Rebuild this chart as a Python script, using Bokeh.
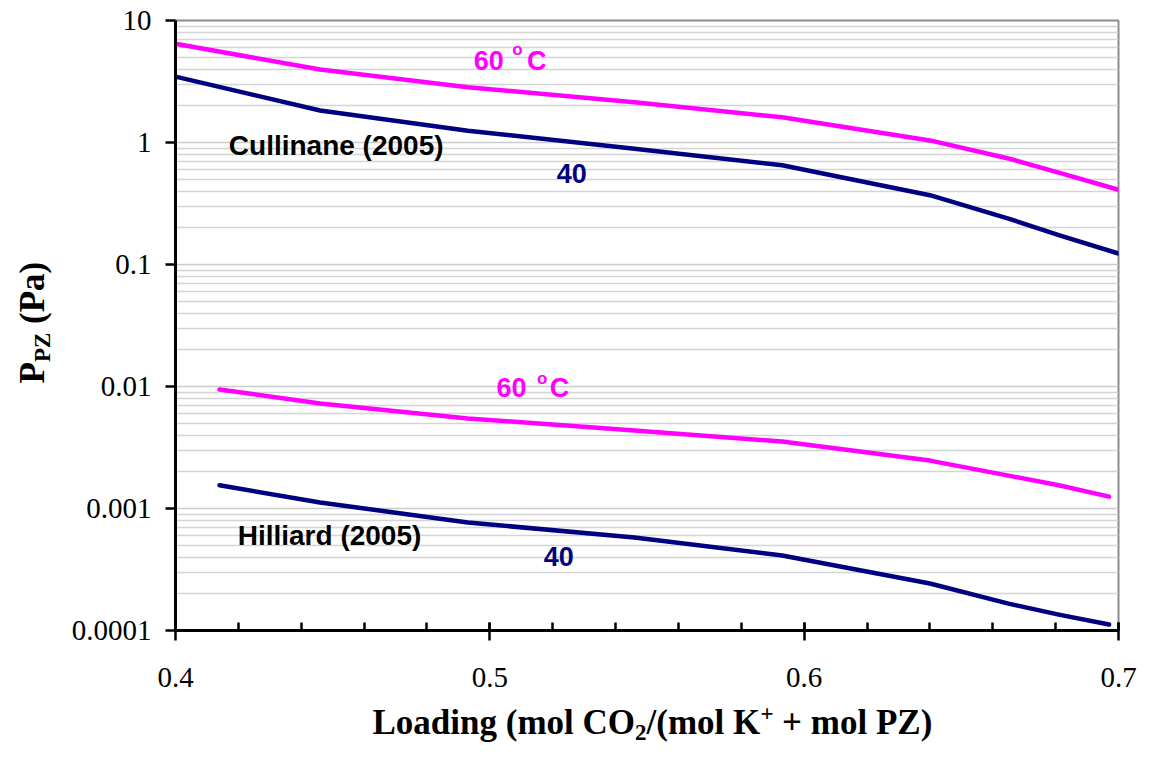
import math
from bokeh.plotting import figure
from bokeh.layouts import row, column
from bokeh.models import Label, FixedTicker, CustomJSTickFormatter
from bokeh.embed import file_html
from bokeh.resources import INLINE

# ---- data ----
loading_cullinane = [0.400, 0.446, 0.493, 0.546, 0.593, 0.640, 0.665, 0.681, 0.700]
cullinane_60 = [6.44, 3.96, 2.84, 2.14, 1.61, 1.04, 0.74, 0.567, 0.41]
cullinane_40 = [3.47, 1.83, 1.25, 0.89, 0.65, 0.37, 0.238, 0.174, 0.123]

loading_hilliard = [0.414, 0.446, 0.493, 0.546, 0.593, 0.640, 0.665, 0.681, 0.697]
hilliard_60 = [0.00945, 0.00726, 0.00547, 0.00436, 0.00354, 0.00247, 0.00186, 0.00155, 0.00125]
hilliard_40 = [0.00155, 0.00112, 0.000768, 0.000578, 0.000412, 0.000243, 0.000166, 0.000135, 0.000112]

x_major = [0.4, 0.5, 0.6, 0.7]
x_minor = [round(0.4 + 0.02 * i, 2) for i in range(16)]
y_major = [1e-4, 1e-3, 1e-2, 1e-1, 1, 10]
y_minor = [m * 10.0 ** e for e in range(-4, 1) for m in range(2, 10)]

MAGENTA = "#FF00FF"
NAVY = "#000080"
SERIF = "Liberation Serif"
SANS = "Liberation Sans"

# ---- layout geometry (pixels) ----
TOTAL_W, TOTAL_H = 1137, 744
YT_W = 60            # strip for the y title
XT_H = 44            # strip for the x title
MAIN_W = TOTAL_W - YT_W
MAIN_H = TOTAL_H - XT_H
F_LEFT, F_RIGHT = 175, 1118   # page x of the frame edges
B_LEFT = F_LEFT - YT_W
B_RIGHT = TOTAL_W - F_RIGHT

p = figure(width=MAIN_W, height=MAIN_H, x_range=(0.4, 0.7), y_range=(1e-4, 10),
           y_axis_type="log", output_backend="svg", toolbar_location=None,
           min_border_left=B_LEFT, min_border_right=B_RIGHT, min_border_top=20,
           min_border_bottom=70, background_fill_color="white",
           border_fill_color="white")

p.outline_line_color = "#8c8c8c"
p.outline_line_width = 2

# grid
p.xgrid.visible = False
p.ygrid.ticker = FixedTicker(ticks=y_major, minor_ticks=y_minor)
p.ygrid.grid_line_color = "#cccccc"
p.ygrid.grid_line_width = 1.5
p.ygrid.minor_grid_line_color = "#d4d4d4"
p.ygrid.minor_grid_line_width = 1.5

# x axis
xa = p.xaxis[0]
xa.ticker = FixedTicker(ticks=x_major, minor_ticks=x_minor)
xa.axis_line_color = "black"
xa.axis_line_width = 3
xa.major_tick_line_width = 2.5
xa.major_tick_in = 8
xa.major_tick_out = 10
xa.minor_tick_line_width = 2.5
xa.minor_tick_in = 8
xa.minor_tick_out = 0
xa.major_label_text_font = SERIF
xa.major_label_text_font_size = "29px"
xa.major_label_text_color = "black"
xa.major_label_standoff = 27

# y axis
ya = p.yaxis[0]
ya.ticker = FixedTicker(ticks=y_major, minor_ticks=y_minor)
ya.formatter = CustomJSTickFormatter(
    code="return tick >= 1 ? tick.toFixed(0) : String(parseFloat(tick.toPrecision(1)));")
ya.axis_line_color = "black"
ya.axis_line_width = 3
ya.major_tick_line_width = 2.5
ya.major_tick_in = 0
ya.major_tick_out = 10
ya.minor_tick_line_color = None
ya.major_label_text_font = SERIF
ya.major_label_text_font_size = "29px"
ya.major_label_text_color = "black"
ya.major_label_standoff = 14

# curves
for xs, ys, c in [(loading_cullinane, cullinane_60, MAGENTA),
                  (loading_cullinane, cullinane_40, NAVY),
                  (loading_hilliard, hilliard_60, MAGENTA),
                  (loading_hilliard, hilliard_40, NAVY)]:
    p.line(xs, ys, line_color=c, line_width=4.5, line_cap="round", line_join="round")

SHIFT = 0.37  # empirical baseline correction (fraction of font size)


# in-plot label placement: reference-pixel -> data coordinates
def px_x(px):
    return 0.4 + (px - 175) * 0.3 / 955


def px_y(py):
    return 10 ** (1 - (py - 20) / 122)


def lab(text, px, py, size, color="black"):
    p.add_layout(Label(x=px_x(px), y=px_y(py - SHIFT * size), text=text, text_font=SANS,
                       text_font_size=f"{size}px", text_color=color,
                       text_font_style="bold", text_align="left",
                       text_baseline="alphabetic"))


lab("60", 477, 70, 27, MAGENTA)
lab("o", 516, 55, 17, MAGENTA)
lab("C", 531, 70, 27, MAGENTA)
lab("Cullinane (2005)", 229, 155, 28)
lab("40", 561, 183, 27, NAVY)

lab("60", 500, 397, 27, MAGENTA)
lab("o", 541, 384, 17, MAGENTA)
lab("C", 554, 397, 27, MAGENTA)
lab("Hilliard (2005)", 238, 545, 28)
lab("40", 548, 566, 27, NAVY)


# ---- title strips: plain figures whose data space is page-pixel space ----
def tlab(f, text, x, y, size, angle=0.0):
    f.add_layout(Label(x=x, y=y, text=text, text_font=SERIF,
                       text_font_size=f"{size}px", text_color="black",
                       text_font_style="bold", text_align="left",
                       text_baseline="alphabetic", angle=angle))


def blank(f):
    f.xgrid.visible = False
    f.ygrid.visible = False
    return f


# x title strip: frame aligned with the main frame (page x F_LEFT..F_RIGHT)
xt = blank(figure(width=MAIN_W, height=XT_H, x_range=(F_LEFT, F_RIGHT), y_range=(0, XT_H),
                  output_backend="svg", toolbar_location=None,
                  x_axis_location=None, y_axis_location=None,
                  min_border_left=B_LEFT, min_border_right=B_RIGHT,
                  min_border_top=0, min_border_bottom=0, outline_line_color=None,
                  background_fill_color="white", border_fill_color="white"))


def xt_lab(text, page_x, page_y, size):
    tlab(xt, text, page_x, TOTAL_H - (page_y - SHIFT * size), size)


BASE = 735  # page-y of baseline
xt_lab("Loading (mol CO", 372, BASE, 35)
xt_lab("2", 634.5, BASE + 6, 23)
xt_lab("/(mol K", 646, BASE, 35)
xt_lab("+", 760, BASE - 13, 23)
xt_lab("+ mol PZ)", 781.6, BASE, 35)

# y title strip (page x 0..YT_W, full height)
yt = blank(figure(width=YT_W, height=TOTAL_H, x_range=(0, YT_W), y_range=(0, TOTAL_H),
                  output_backend="svg", toolbar_location=None,
                  x_axis_location=None, y_axis_location=None,
                  min_border=0, outline_line_color=None,
                  background_fill_color="white", border_fill_color="white"))
HALF = math.pi / 2


def yt_lab(text, page_x, page_y, size):
    tlab(yt, text, page_x - SHIFT * size, TOTAL_H - page_y, size, angle=HALF)


yt_lab("P", 45, 383, 35)
yt_lab("PZ", 51, 361.6, 23)
yt_lab("(Pa)", 45, 323.5, 35)

layout = row(yt, column(p, xt))
open("out.html", "w").write(file_html(layout, INLINE))
